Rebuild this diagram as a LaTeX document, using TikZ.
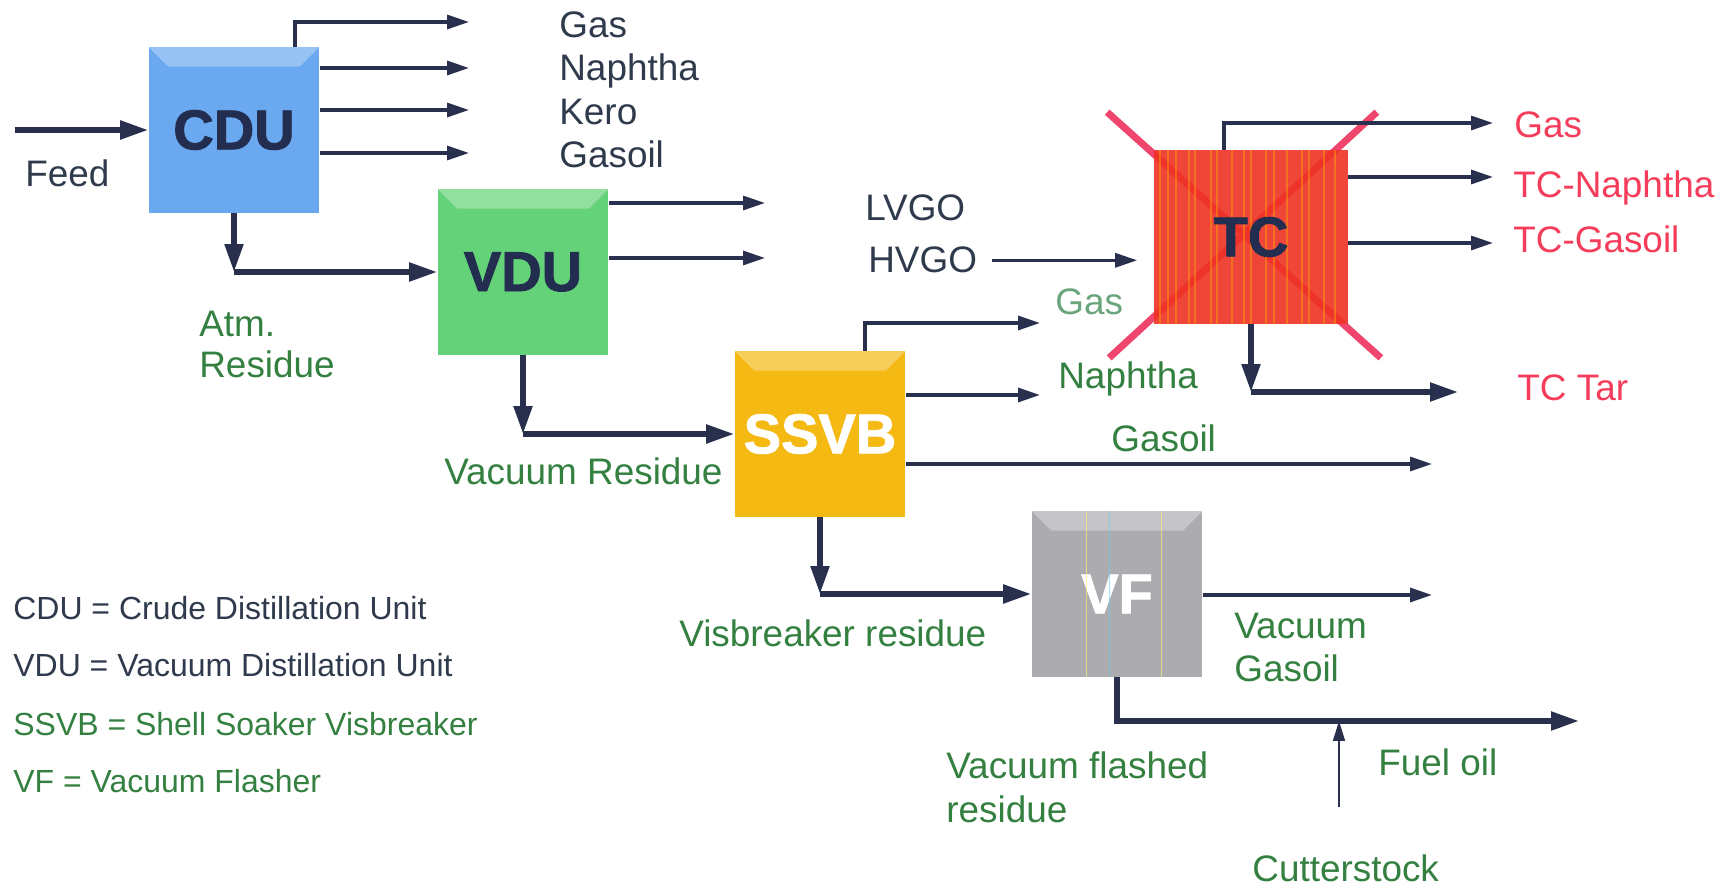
\documentclass[tikz,border=0pt]{standalone}
\usepackage{fontspec}
\setmainfont{Liberation Sans}
\newfontfamily\unitfont[FakeBold=1.6]{Liberation Sans Bold}
\usetikzlibrary{arrows.meta}
\definecolor{pipe}{RGB}{40,48,78}
\definecolor{ink}{RGB}{47,59,76}
\definecolor{unitink}{RGB}{35,45,80}
\definecolor{prodgreen}{RGB}{52,128,64}
\definecolor{palegreen}{RGB}{107,165,125}
\definecolor{tcred}{RGB}{245,60,90}
\definecolor{crossred}{RGB}{240,70,110}
\definecolor{cdublue}{RGB}{106,168,240}
\definecolor{vdugreen}{RGB}{100,210,120}
\definecolor{ssvbgold}{RGB}{245,185,20}
\definecolor{tcfill}{RGB}{238,50,36}
\definecolor{vfgray}{RGB}{172,172,176}

\begin{document}
\begin{tikzpicture}[x=0.02cm, y=-0.02cm,
  unitbox/.style={minimum width=3.42cm, minimum height=3.32cm, inner sep=0pt,
    font=\fontsize{31.9}{32}\unitfont},
  lbl/.style={anchor=base west, inner sep=0pt, font=\fontsize{21}{24}\selectfont},
  keytext/.style={anchor=base west, inner sep=0pt, font=\fontsize{18.2}{20}\selectfont, ink},
  stream/.style={pipe, line width=1.8pt, -{Triangle[length=0.44cm, width=0.28cm]}},
  mainstream/.style={pipe, line width=3pt, -{Triangle[length=0.56cm, width=0.36cm]}},
  thinstream/.style={pipe, line width=1pt, -{Triangle[length=0.4cm, width=0.24cm]}}]
  \useasboundingbox (0,0) rectangle (1729,888);

  % process units
  \node[unitbox, fill=cdublue, text=unitink] (cdu) at (234,130) {CDU};
  \node[unitbox, fill=vdugreen, text=unitink] (vdu) at (523,272) {VDU};
  \node[unitbox, fill=ssvbgold, text=white] (ssvb) at (820,434) {SSVB};
  \node[unitbox, fill=vfgray, text=white] (vf) at (1117,594) {VF};
  \node[unitbox, minimum width=3.86cm, minimum height=3.46cm] (tc) at (1251,237) {};
  \foreach \u in {cdu,vdu,ssvb,vf}
    \fill[white, opacity=.3] (\u.north west) -- (\u.north east) -- ([shift={(-20,20)}]\u.north east)
      -- ([shift={(20,20)}]\u.north west) -- cycle;
  \foreach \s/\c in {55/yellow, 78/cyan, 130/yellow}
    \draw[\c!60!white, opacity=.6, line width=.6pt] ([xshift=\s*0.02cm]vf.north west) -- ([xshift=\s*0.02cm]vf.south west);

  % crossed out unit
  \draw[crossred, line width=4pt] ([shift={(-47,-38)}]tc.north west) -- ([shift={(33,34)}]tc.south east);
  \draw[crossred, line width=4pt] ([shift={(29,-38)}]tc.north east) -- ([shift={(-45,34)}]tc.south west);
  \fill[tcfill, opacity=.9] (tc.north west) rectangle (tc.south east);
  \foreach \s in {6,14,22,35,41,57,63,78,90,97,112,120,133,148,155,170,181}
    \draw[orange!70!yellow, opacity=.45, line width=.8pt] ([xshift=\s*0.02cm]tc.north west) -- ([xshift=\s*0.02cm]tc.south west);
  \node[font=\fontsize{31.9}{32}\unitfont, text=unitink] (tctext) at (tc) {TC};

  % free ends
  \coordinate (feedin) at (15,130);
  \coordinate (cdugasend) at (469,22);
  \coordinate (cdunaphend) at (469,68);
  \coordinate (cdukeroend) at (469,110);
  \coordinate (cdugoend) at (469,153);
  \coordinate (lvgoend) at (765,203);
  \coordinate (hvgoend) at (765,258);
  \coordinate (vbgasend) at (1040,323);
  \coordinate (vbnaphend) at (1040,395);
  \coordinate (vbgoend) at (1432,464);
  \coordinate (tcgasend) at (1493,123);
  \coordinate (tcnaphend) at (1493,177);
  \coordinate (tcgoend) at (1493,243);
  \coordinate (tarend) at (1458,392);
  \coordinate (vgoend) at (1432,595);
  \coordinate (fuelend) at (1579,721);
  \coordinate (cutin) at (1339,807);
  \coordinate (atmbend) at (cdu.south |- vdu.west);
  \coordinate (vacbend) at (vdu.south |- ssvb.west);
  \coordinate (vbbend) at (ssvb.south |- vf.west);
  \coordinate (tarbend) at (tc.south |- tarend);

  % streams
  \draw[mainstream] (feedin) -- (cdu.west);
  \draw[stream] ([xshift=1.22cm]cdu.north) |- (cdugasend);
  \draw[stream] (cdu.east |- cdunaphend) -- (cdunaphend);
  \draw[stream] (cdu.east |- cdukeroend) -- (cdukeroend);
  \draw[stream] (cdu.east |- cdugoend) -- (cdugoend);
  \draw[mainstream] (cdu.south) -- (atmbend);
  \draw[mainstream] (atmbend) -- (vdu.west);
  \draw[stream] (vdu.east |- lvgoend) -- (lvgoend);
  \draw[stream] (vdu.east |- hvgoend) -- (hvgoend);
  \draw[mainstream] (vdu.south) -- (vacbend);
  \draw[mainstream] (vacbend) -- (ssvb.west);
  \draw[stream] ([xshift=0.9cm]ssvb.north) |- (vbgasend);
  \draw[stream] (ssvb.east |- vbnaphend) -- (vbnaphend);
  \draw[stream] (ssvb.east |- vbgoend) -- (vbgoend);
  \draw[mainstream] (ssvb.south) -- (vbbend);
  \draw[mainstream] (vbbend) -- (vf.west);
  \draw[stream] ([xshift=-0.54cm]tc.north) |- (tcgasend);
  \draw[stream] (tc.east |- tcnaphend) -- (tcnaphend);
  \draw[stream] (tc.east |- tcgoend) -- (tcgoend);
  \draw[mainstream] (tc.south) -- (tarbend);
  \draw[mainstream] (tarbend) -- (tarend);
  \draw[stream] (vf.east |- vgoend) -- (vgoend);
  \draw[mainstream] (vf.south) |- (fuelend);
  \draw[thinstream] (cutin) -- (cutin |- fuelend);

  % stream labels
  \node[lbl, ink] (feed) at (25,187) {Feed};
  \node[lbl, ink] (cdugas) at (559,38) {Gas};
  \node[lbl, ink] (cdunaph) at (559,81) {Naphtha};
  \node[lbl, ink] (cdukero) at (559,125) {Kero};
  \node[lbl, ink] (cdugo) at (559,168) {Gasoil};
  \node[lbl, prodgreen] (atm) at (199,337) {Atm.};
  \node[lbl, prodgreen] (atmres) at (199,378) {Residue};
  \node[lbl, ink] (lvgo) at (865,221) {LVGO};
  \node[lbl, ink] (hvgo) at (868,273) {HVGO};
  \draw[stream] ([xshift=0.3cm]hvgo.east) -- ([xshift=-0.34cm]hvgo.east -| tc.west);
  \node[lbl, tcred] (tcgas) at (1514,138) {Gas};
  \node[lbl, tcred] (tcnaph) at (1513,198) {TC-Naphtha};
  \node[lbl, tcred] (tcgo) at (1513,253) {TC-Gasoil};
  \node[lbl, tcred] (tctar) at (1517,401) {TC Tar};
  \node[lbl, palegreen] (vbgas) at (1055,315) {Gas};
  \node[lbl, prodgreen] (vbnaph) at (1058,389) {Naphtha};
  \node[lbl, prodgreen] (vbgo) at (1111,452) {Gasoil};
  \node[lbl, prodgreen] (vacres) at (444,485) {Vacuum Residue};
  \node[lbl, prodgreen] (vbres) at (679,646) {Visbreaker residue};
  \node[lbl, prodgreen] (vgo1) at (1234,639) {Vacuum};
  \node[lbl, prodgreen] (vgo2) at (1234,682) {Gasoil};
  \node[lbl, prodgreen] (vfres1) at (946,778) {Vacuum flashed};
  \node[lbl, prodgreen] (vfres2) at (946,822) {residue};
  \node[lbl, prodgreen] (fueloil) at (1378,775) {Fuel oil};
  \node[lbl, prodgreen] (cutter) at (1252,881) {Cutterstock};

  % legend
  \node[keytext] (keycdu) at (13,620) {CDU = Crude Distillation Unit};
  \node[keytext] (keyvdu) at (13,677) {VDU = Vacuum Distillation Unit};
  \node[keytext, prodgreen] (keyssvb) at (13,735) {SSVB = Shell Soaker Visbreaker};
  \node[keytext, prodgreen] (keyvf) at (13,792) {VF = Vacuum Flasher};
\end{tikzpicture}
\end{document}
